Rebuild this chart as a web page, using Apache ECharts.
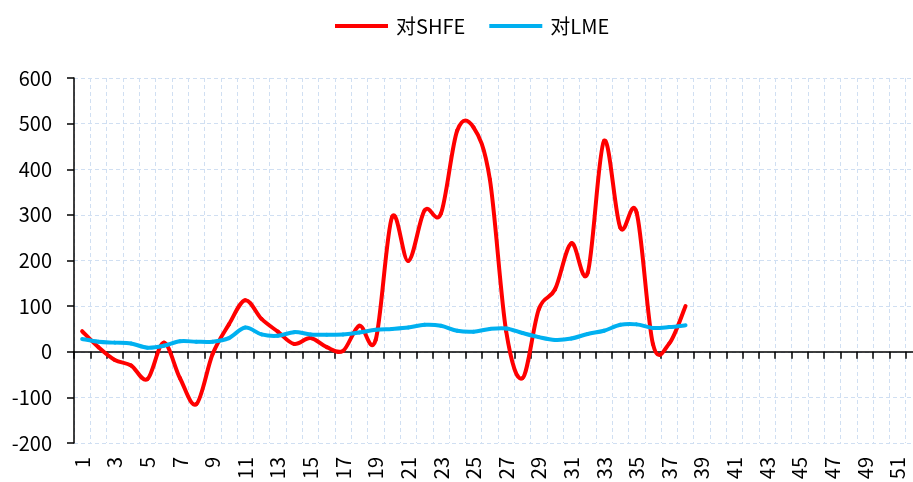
<!DOCTYPE html>
<html>
<head>
<meta charset="utf-8">
<style>html,body{margin:0;padding:0;background:#fff;}#c{width:913px;height:482px;}</style>
<script src="https://cdn.jsdelivr.net/npm/echarts@6/dist/echarts.min.js"></script>
</head>
<body>
<div id="c"></div>
<script>
var categories = [];
for (var i = 1; i <= 52; i++) categories.push(String(i));

var shfeName = '对SHFE';
var lmeName = '对LME';

var shfeValues = [45, 10, -18, -30, -60, 20, -58, -115, -5, 60,
  113, 72, 44, 17, 30, 10, 2, 57, 26, 295,
  199, 310, 303, 485, 492, 378, 45, -58, 93, 137,
  238, 173, 462, 272, 305, 17, 18, 100];

var lmeValues = [28, 22, 20, 18, 9, 13, 23, 22, 22, 30,
  53, 38, 35, 43, 38, 37, 38, 42, 48, 50,
  53, 59, 57, 46, 44, 50, 51, 41, 32, 26,
  29, 39, 46, 59, 60, 52, 54, 58];

var yTicks = {min: -200, max: 600, interval: 100};

var FONT = '"Noto Sans CJK SC", "Noto Sans", sans-serif';
var GRID_COLOR = '#D0DFF2';

// Smoothed line (cardinal spline through every data point), drawn per segment
// from the data values through the chart's own coordinate system.
function smoothRenderer(values, color) {
  return function (params, api) {
    var i = params.dataIndex;
    if (i >= values.length - 1) return null;
    function pt(k) {
      k = Math.max(0, Math.min(values.length - 1, k));
      return api.coord([k, values[k]]);
    }
    var p0 = pt(i - 1), p1 = pt(i), p2 = pt(i + 1), p3 = pt(i + 2);
    var t = 1 / 6;
    return {
      type: 'bezierCurve',
      shape: {
        x1: p1[0], y1: p1[1], x2: p2[0], y2: p2[1],
        cpx1: p1[0] + (p2[0] - p0[0]) * t, cpy1: p1[1] + (p2[1] - p0[1]) * t,
        cpx2: p2[0] - (p3[0] - p1[0]) * t, cpy2: p2[1] - (p3[1] - p1[1]) * t
      },
      style: {stroke: color, lineWidth: 4, fill: null, lineCap: 'round', lineJoin: 'round'}
    };
  };
}

function toPairs(values) {
  return values.map(function (v, i) { return [i, v]; });
}

var chart = echarts.init(document.getElementById('c'), null, {renderer: 'canvas'});
chart.setOption({
  animation: false,
  backgroundColor: '#fff',
  legend: {
    left: 330, top: 11,
    icon: 'rect',
    itemWidth: 53, itemHeight: 4,
    itemGap: 24,
    textStyle: {fontFamily: FONT, fontSize: 20, color: '#000', padding: [0, 0, 0, 3]},
    data: [shfeName, lmeName]
  },
  grid: {left: 74, top: 78, width: 848, height: 365, containLabel: false, outerBoundsMode: 'none'},
  xAxis: [{
    type: 'category',
    data: categories,
    position: 'top',
    boundaryGap: true,
    axisLine: {show: true, onZero: true, lineStyle: {color: '#000', width: 1.5}},
    axisTick: {show: true, inside: true, interval: 0, length: 7, lineStyle: {color: '#000', width: 1.5}},
    axisLabel: {show: false},
    splitLine: {show: true, interval: 0, lineStyle: {color: GRID_COLOR, type: [4, 3], width: 1}}
  }, {
    type: 'category',
    data: categories,
    position: 'bottom',
    boundaryGap: true,
    axisLine: {show: false, onZero: false},
    axisTick: {show: false},
    axisLabel: {show: true, interval: 1, rotate: 90, margin: 14, fontFamily: FONT, fontSize: 20, color: '#000'},
    splitLine: {show: false}
  }],
  yAxis: {
    type: 'value',
    min: yTicks.min, max: yTicks.max, interval: yTicks.interval,
    axisLine: {show: true, lineStyle: {color: '#000', width: 1.5}},
    axisTick: {show: true, length: 7, lineStyle: {color: '#000', width: 1.5}},
    axisLabel: {fontFamily: FONT, fontSize: 20, color: '#000', margin: 22},
    splitLine: {show: true, lineStyle: {color: GRID_COLOR, type: [4, 3], width: 1}}
  },
  series: [{
    name: shfeName,
    type: 'custom',
    coordinateSystem: 'cartesian2d',
    xAxisIndex: 0,
    encode: {x: 0, y: 1},
    data: toPairs(shfeValues),
    renderItem: smoothRenderer(shfeValues, '#FF0000'),
    itemStyle: {color: '#FF0000'},
    z: 2
  }, {
    name: lmeName,
    type: 'custom',
    coordinateSystem: 'cartesian2d',
    xAxisIndex: 0,
    encode: {x: 0, y: 1},
    data: toPairs(lmeValues),
    renderItem: smoothRenderer(lmeValues, '#00B0F0'),
    itemStyle: {color: '#00B0F0'},
    z: 3
  }]
});
</script>
</body>
</html>
